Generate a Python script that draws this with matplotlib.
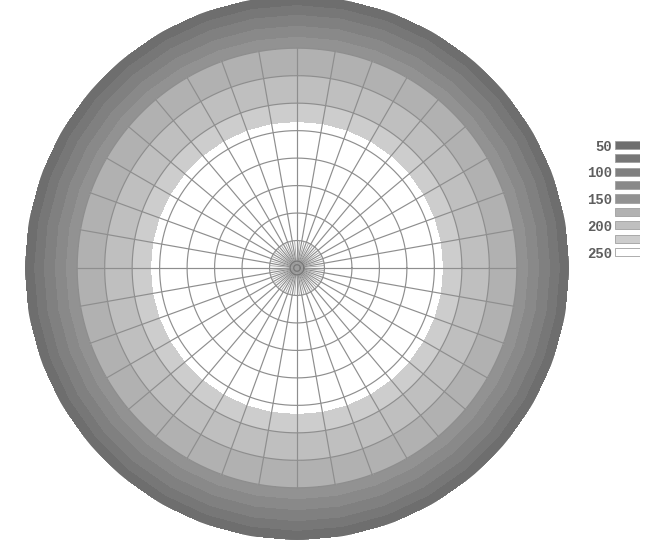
import numpy as np
import matplotlib
matplotlib.use("Agg")
import matplotlib.pyplot as plt

# ---- data ----
# radial profile of the field, radius in grid units (grid circles at 1..8)
radius = [0.0, 2.0, 4.0, 5.0, 5.3, 6.0, 7.0, 8.0, 8.4, 8.8, 9.2, 9.55, 9.9]
value = [300, 290, 270, 258, 250, 225, 200, 175, 150, 125, 100, 75, 55]
angles_deg = list(range(0, 361, 10))

levels = [50, 75, 100, 125, 150, 175, 200, 225, 250, 300]
band_colors = ['#6e6e6e', '#777777', '#808080', '#898989', '#929292',
               '#b1b1b1', '#bfbfbf', '#cdcdcd', '#ffffff']
legend_labels = ['50', '', '100', '', '150', '', '200', '', '250']

grid_circles = [1, 2, 3, 4, 5, 6, 7, 8]
spoke_step = 10
inner_spoke_step = 5

# ---- figure ----
W, H = 661, 549
fig = plt.figure(figsize=(W / 100, H / 100), dpi=100)
fig.patch.set_facecolor('white')

cx, cy, R = 297, 268, 272
ax = fig.add_axes([(cx - R) / W, (H - cy - R) / H, 2 * R / W, 2 * R / H],
                  projection='polar')

th = np.deg2rad(np.array(angles_deg, dtype=float))
rr = np.array(radius, dtype=float)
TH, RR = np.meshgrid(th, rr, indexing='ij')
Z = np.tile(np.array(value, dtype=float), (len(th), 1))
ax.contourf(TH, RR, Z, levels=levels, colors=band_colors)

# grid
gcol = '#8e8e8e'
tfine = np.linspace(0, 2 * np.pi, 721)
for c in grid_circles:
    ax.plot(tfine, np.full_like(tfine, c), color=gcol, lw=0.85, zorder=3)
for a in range(0, 360, spoke_step):
    t = np.deg2rad(a)
    ax.plot([t, t], [0, grid_circles[-1]], color=gcol, lw=0.85, zorder=3)
for a in range(0, 360, inner_spoke_step):
    if a % spoke_step:
        t = np.deg2rad(a)
        ax.plot([t, t], [0, grid_circles[0]], color='#a0a0a0', lw=0.6, zorder=3)
for c in (0.12, 0.25):
    ax.plot(tfine, np.full_like(tfine, c), color='#777777', lw=0.9, zorder=4)

ax.set_ylim(0, radius[-1])
ax.grid(False)
ax.set_xticks([])
ax.set_yticks([])
ax.spines['polar'].set_visible(False)
ax.set_facecolor('white')

# legend
top_c, bot_c = 145, 252
step = (bot_c - top_c) / (len(band_colors) - 1)
ltop = top_c - step / 2
lh = step * len(band_colors)
lax = fig.add_axes([615 / W, (H - ltop - lh) / H, 25 / W, lh / H])
ypos = np.arange(len(band_colors))
lax.barh(ypos, [1] * len(band_colors), height=0.6, left=0,
         color=band_colors, edgecolor='#a0a0a0', linewidth=0.6)
lax.set_xlim(0, 1)
lax.set_ylim(len(band_colors) - 0.5, -0.5)
lax.set_xticks([])
lax.set_yticks(ypos)
lax.set_yticklabels(legend_labels, family='Liberation Mono', fontweight='bold',
                    fontsize=10, color='#5e5e5e')
lax.tick_params(axis='y', length=0, pad=2)
for s in lax.spines.values():
    s.set_visible(False)

fig.savefig('out.png', dpi=100)
